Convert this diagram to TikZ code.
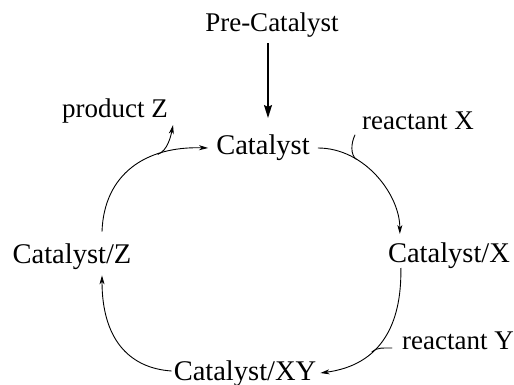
\documentclass[tikz,border=0pt]{standalone}
\usepackage{fontspec}
\setmainfont{Liberation Serif}
\usetikzlibrary{arrows.meta,calc}
\begin{document}
\begin{tikzpicture}[x=1pt,y=-1pt,
  species/.style={inner sep=0pt, anchor=base, font=\fontsize{28.5}{30}\selectfont},
  reagent/.style={inner sep=0pt, anchor=base, font=\fontsize{27}{29}\selectfont},
  cycle/.style={line width=0.9pt, -{Stealth[length=9pt,width=5pt,inset=2.5pt]}},
  hook/.style={line width=0.9pt, line cap=round},
  feed/.style={line width=1.5pt, -{Stealth[length=13pt,width=8pt,inset=2pt]}}]
\useasboundingbox (0,0) rectangle (514,385);

% species and reagents
\node[reagent] (pre) at (272,32) {Pre-Catalyst};
\node[species] (cat) at (263,155) {Catalyst};
\node[species] (cx)  at (449,262) {Catalyst/X};
\node[species] (cz)  at (72,263)  {Catalyst/Z};
\node[species] (cxy) at (245,380) {Catalyst/XY};
\node[reagent] (pz)  at (115,118) {product Z};
\node[reagent] (rx)  at (418,130) {reactant X};
\node[reagent] (ry)  at (458,349) {reactant Y};

% activation of the pre-catalyst
\draw[feed] ($(pre.south)+(-4,5)$) -- ($(cat.north)+(5,-17)$);

% catalytic cycle
\draw[cycle] ($(cat.base east)+(8,-7)$)
  .. controls +(47,0) and +(0,-39) .. coordinate[pos=0.3] (jx)
  ($(cx.base west)+(12,-28)$);
\draw[cycle] ($(cx.base west)+(13,6)$)
  .. controls +(1,57) and +(60,-8) .. coordinate[pos=0.63] (jy)
  ($(cxy.base east)+(4,-7)$);
\draw[cycle] ($(cxy.base west)+(-2,-9)$)
  .. controls +(-44,-3) and +(0,62) .. ($(cz.south)+(30,6)$);
\draw[cycle] ($(cz.north)+(30,-11.5)$)
  .. controls +(2,-57) and +(-63,-2) .. coordinate[pos=0.7] (jz)
  ($(cat.base west)+(-8,-7)$);

% reagents entering and product leaving
\coordinate (hx) at ($(rx.base west)+(-7,5)$);
\coordinate (hy) at ($(ry.base west)+(-10,-1)$);
\draw[hook] (hx) .. controls +(-4,8) and +(-6,-4) .. (jx);
\draw[hook] (hy) .. controls +(-8,0) and +(5,-4.5) .. (jy);
\draw[cycle] (jz) .. controls +(10,-3.5) and +(-2,10) .. ($(pz.base east)+(5,7)$);
\end{tikzpicture}
\end{document}
